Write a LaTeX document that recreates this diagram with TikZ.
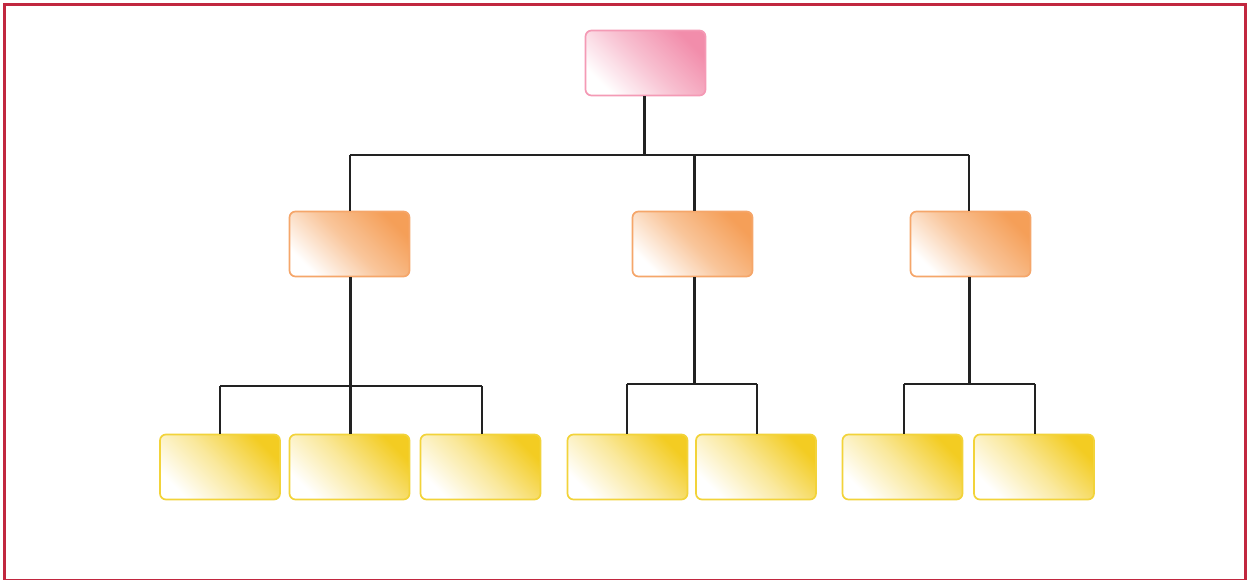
\documentclass[tikz,border=0pt]{standalone}
\usetikzlibrary{calc}
\definecolor{frame}{HTML}{C1273F}
\definecolor{pinkB}{HTML}{F49AB5}
\definecolor{pinkF}{HTML}{F28DAB}
\definecolor{orB}{HTML}{F5A66A}
\definecolor{orF}{HTML}{F59F58}
\definecolor{yeB}{HTML}{F2D33A}
\definecolor{yeF}{HTML}{F3CC22}
\definecolor{ln}{HTML}{222222}
\begin{document}
\begin{tikzpicture}[x=1pt,y=-1pt,
  box/.style={draw, line width=1.7pt, rounded corners=6pt, minimum width=120pt, minimum height=65pt, inner sep=0pt},
  rootbox/.style={box, draw=pinkB, top color=pinkF, bottom color=white, middle color=pinkF!55!white, shading angle=-45},
  midbox/.style={box, draw=orB, top color=orF, bottom color=white, middle color=orF!60!white, shading angle=-45},
  leafbox/.style={box, draw=yeB, top color=yeF, bottom color=white, middle color=yeF!45!white, shading angle=-45},
  thick line/.style={draw=ln, line width=3pt},
  thin line/.style={draw=ln, line width=1.9pt}]
\useasboundingbox (0,0) rectangle (1251,579);
\draw[frame, line width=3pt] (4.5,4.5) rectangle (1245.5,580.5);

\node[rootbox] (r) at (645.5,63) {};
\node[midbox] (a) at (349.5,244) {};
\node[midbox] (b) at (692.5,244) {};
\node[midbox] (c) at (970.5,244) {};
\node[leafbox] (a1) at (220,467) {};
\node[leafbox] (a2) at (349.5,467) {};
\node[leafbox] (a3) at (480.5,467) {};
\node[leafbox] (b1) at (627.5,467) {};
\node[leafbox] (b2) at (756,467) {};
\node[leafbox] (c1) at (902.5,467) {};
\node[leafbox] (c2) at (1034,467) {};

\coordinate (rj) at (644,155);
\coordinate (aj) at (350,386);
\coordinate (bj) at (694,384);
\coordinate (cj) at (969,384);

% root level
\draw[thick line] (r.south -| rj) -- (rj);
\draw[thin line] (350,155) -- (969,155);
\draw[thin line] (350,155) -- (a.north -| 350,0);
\draw[thick line] (694,154) -- (b.north -| 694,0);
\draw[thin line] (969,155) -- (c.north -| 969,0);

% a group
\draw[thin line] (220,386) -- (482,386);
\draw[thin line] (220,386) -- (a1.north -| 220,0);
\draw[thin line] (482,386) -- (a3.north -| 482,0);
\draw[thick line] (a.south -| aj) -- (a2.north -| aj);

% b group
\draw[thin line] (627,384) -- (757,384);
\draw[thin line] (627,384) -- (b1.north -| 627,0);
\draw[thin line] (757,384) -- (b2.north -| 757,0);
\draw[thick line] (b.south -| bj) -- (bj);

% c group
\draw[thin line] (904,384) -- (1035,384);
\draw[thin line] (904,384) -- (c1.north -| 904,0);
\draw[thin line] (1035,384) -- (c2.north -| 1035,0);
\draw[thick line] (c.south -| cj) -- (cj);
\end{tikzpicture}
\end{document}
